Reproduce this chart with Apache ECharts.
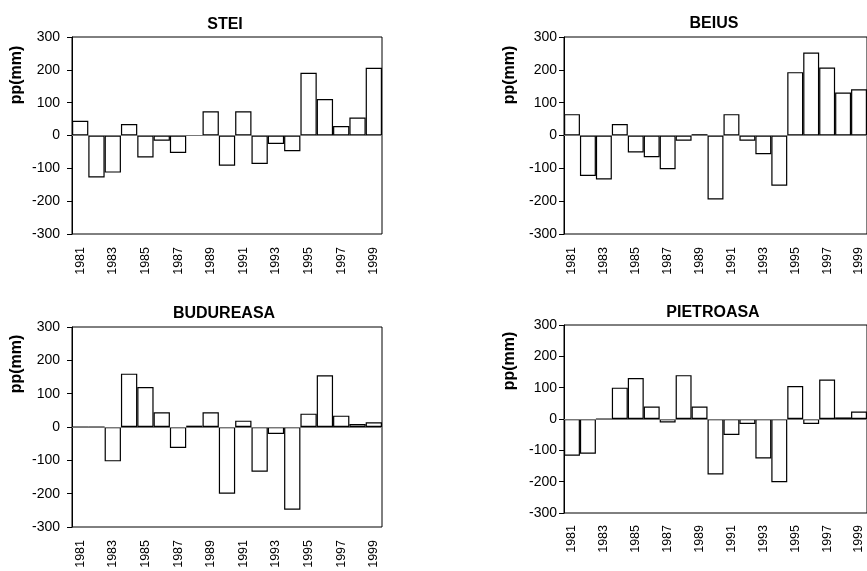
<!DOCTYPE html>
<html><head><meta charset="utf-8">
<script src="https://cdn.jsdelivr.net/npm/echarts@6/dist/echarts.min.js"></script>
<style>html,body{margin:0;padding:0;background:#fff}#c{width:867px;height:571px}</style>
</head><body><div id="c"></div>
<script>
const years = ['1981','1982','1983','1984','1985','1986','1987','1988','1989','1990','1991','1992','1993','1994','1995','1996','1997','1998','1999'];
const stei      = [45,-128,-113,35,-67,-16,-53,null,74,-92,74,-87,-26,-48,191,111,29,55,206];
const beius     = [65,-123,-134,35,-52,-66,-103,-16,4,-195,65,-16,-57,-153,193,253,207,131,141];
const budureasa = [0,0,-103,160,120,44,-63,4,44,-200,19,-134,-21,-248,40,155,34,9,14];
const pietroasa = [-117,-111,0,100,131,40,-11,140,40,-177,-51,-16,-126,-202,105,-16,126,5,24];
const titles = ['STEI','BEIUS','BUDUREASA','PIETROASA'];
const yTicks = {min:-300, max:300, interval:100};
const yName = 'pp(mm)';

const panels = [
  {data: stei,      grid:{left:72, top:37, width:310, height:197}, title:[220,12], name:[17,75], lm:12, xm:13},
  {data: beius,     grid:{left:564, top:37, width:304, height:197}, title:[709,11], name:[510,75], lm:7, xm:13},
  {data: budureasa, grid:{left:72, top:327, width:310, height:200}, title:[219,301], name:[17,364], lm:12, xm:13},
  {data: pietroasa, grid:{left:564, top:325, width:304, height:188}, title:[708,300], name:[510,361], lm:7, xm:12}
];
const font = 'Liberation Sans, Arial, sans-serif';
const option = {
  animation:false,
  backgroundColor:'#fff',
  title: panels.map((p,i)=>({text:titles[i], left:p.title[0], top:p.title[1], textAlign:'center',
    textStyle:{fontFamily:font, fontSize:16, fontWeight:'bold', color:'#000'}})),
  grid: panels.map(p=>Object.assign({show:true, borderColor:'#000', borderWidth:1, backgroundColor:'transparent'}, p.grid)),
  xAxis: panels.map((p,i)=>({type:'category', gridIndex:i, data:years,
    axisLine:{show:false}, axisTick:{show:false},
    axisLabel:{interval:1, rotate:90, margin:p.xm, fontFamily:font, fontSize:12.5, color:'#000'}})),
  yAxis: panels.map((p,i)=>({type:'value', gridIndex:i, min:yTicks.min, max:yTicks.max, interval:yTicks.interval,
    splitLine:{show:false},
    axisLine:{show:true, lineStyle:{color:'#000', width:1}},
    axisTick:{show:true, length:5, lineStyle:{color:'#000'}},
    axisLabel:{margin:p.lm, fontFamily:font, fontSize:14, color:'#000'}})),
  graphic: panels.map(p=>({type:'text', x:p.name[0], y:p.name[1], rotation:Math.PI/2,
    style:{text:yName, fontFamily:font, fontSize:16, fontWeight:'bold', fill:'#000', align:'center', verticalAlign:'middle'}})),
  series: panels.map((p,i)=>({type:'bar', xAxisIndex:i, yAxisIndex:i, data:p.data,
    barCategoryGap:'0%', itemStyle:{color:'#fff', borderColor:'#000', borderWidth:1.2},
    markLine:{silent:true, symbol:'none', label:{show:false}, lineStyle:{color:'#777', width:1, type:'solid'}, data:[{yAxis:0}]}}))
};
echarts.init(document.getElementById('c')).setOption(option);
</script></body></html>
